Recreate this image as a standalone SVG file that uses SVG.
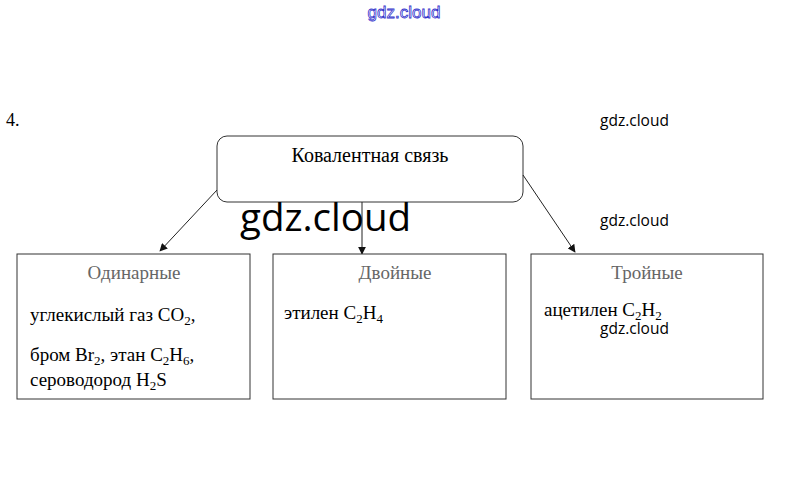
<svg xmlns="http://www.w3.org/2000/svg" width="809" height="503" viewBox="0 0 809 503">
<style>
.s{font-family:"Liberation Serif","Times New Roman",serif;font-size:19px;fill:#000}
.t{font-family:"Liberation Serif","Times New Roman",serif;font-size:19px;fill:#666}
.w{font-family:"Open Sans","Liberation Sans",sans-serif;font-size:15.5px;fill:#000}
.box{fill:#fff;stroke:#333;stroke-width:1}
.c{stroke:#222;stroke-width:1;fill:none;marker-end:url(#ah)}
</style>
<defs>
<marker id="ah" viewBox="0 0 10 10" refX="9" refY="5" markerWidth="8" markerHeight="8" orient="auto" markerUnits="userSpaceOnUse">
<path d="M0,0 L10,5 L0,10 z" fill="#111"/>
</marker>
</defs>
<rect width="809" height="503" fill="#fff"/>
<text x="404" y="18" text-anchor="middle" style="font-family:'Liberation Sans',sans-serif;font-size:17px;fill:#fff;stroke:#33c;stroke-width:0.8">gdz.cloud</text>
<text class="s" x="6" y="126" style="font-size:18px">4.</text>
<text class="w" x="600" y="126">gdz.cloud</text>
<g id="root">
<rect class="box" x="217" y="136" width="306" height="66" rx="10"/>
<text class="s" x="370" y="162" text-anchor="middle" style="font-size:20px">Ковалентная связь</text>
</g>
<g id="connectors">
<line class="c" x1="217" y1="190" x2="160" y2="251"/>
<line class="c" x1="362" y1="202" x2="362" y2="254"/>
<line class="c" x1="523" y1="175" x2="575" y2="252"/>
</g>
<g id="single">
<rect class="box" x="17" y="254" width="233" height="145"/>
<text class="t" x="134" y="279" text-anchor="middle">Одинарные</text>
<text class="s" x="30" y="321">углекислый газ CO<tspan font-size="13" dy="4">2</tspan><tspan dy="-4">,</tspan></text>
<text class="s" x="30" y="361">бром Br<tspan font-size="13" dy="4">2</tspan><tspan dy="-4">, этан C</tspan><tspan font-size="13" dy="4">2</tspan><tspan dy="-4">H</tspan><tspan font-size="13" dy="4">6</tspan><tspan dy="-4">,</tspan></text>
<text class="s" x="30" y="386">сероводород H<tspan font-size="13" dy="4">2</tspan><tspan dy="-4">S</tspan></text>
</g>
<g id="double">
<rect class="box" x="273" y="254" width="233" height="145"/>
<text class="t" x="395" y="279" text-anchor="middle">Двойные</text>
<text class="s" x="284" y="319">этилен C<tspan font-size="13" dy="4">2</tspan><tspan dy="-4">H</tspan><tspan font-size="13" dy="4">4</tspan></text>
</g>
<g id="triple">
<rect class="box" x="531" y="254" width="232" height="145"/>
<text class="t" x="647" y="279" text-anchor="middle">Тройные</text>
<text class="s" x="544" y="316">ацетилен C<tspan font-size="13" dy="4">2</tspan><tspan dy="-4">H</tspan><tspan font-size="13" dy="4">2</tspan></text>
</g>
<text class="w" x="240" y="231" style="font-size:38.5px">gdz.cloud</text>
<text class="w" x="600" y="226">gdz.cloud</text>
<text class="w" x="600" y="334">gdz.cloud</text>
</svg>
